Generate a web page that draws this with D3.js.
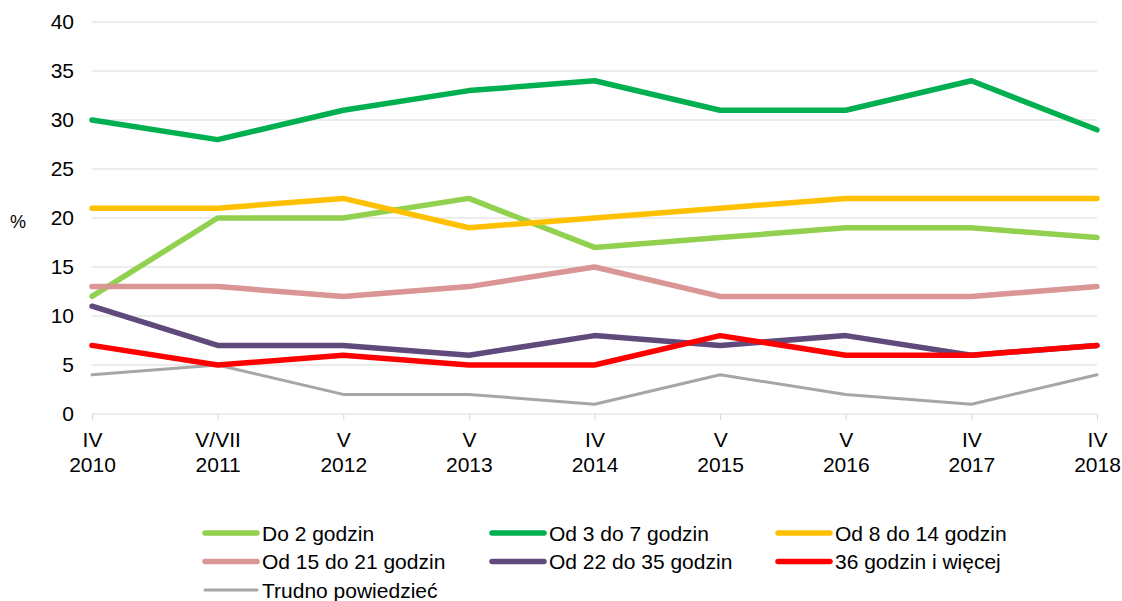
<!DOCTYPE html>
<html><head><meta charset="utf-8">
<script src="https://cdn.jsdelivr.net/npm/d3@7"></script>
<style>body{margin:0;background:#fff}svg{font-family:"Liberation Sans",Arial,sans-serif}</style>
</head><body>
<svg id="c" width="1122" height="601"></svg>
<script>
const periods = ["IV","V/VII","V","V","IV","V","V","IV","IV"];
const years = ["2010","2011","2012","2013","2014","2015","2016","2017","2018"];
const yTicks = [0,5,10,15,20,25,30,35,40];
const seriesNames = ["Do 2 godzin","Od 3 do 7 godzin","Od 8 do 14 godzin","Od 15 do 21 godzin","Od 22 do 35 godzin","36 godzin i więcej","Trudno powiedzieć"];
const do2 = [12,20,20,22,17,18,19,19,18];
const od3 = [30,28,31,33,34,31,31,34,29];
const od8 = [21,21,22,19,20,21,22,22,22];
const od15 = [13,13,12,13,15,12,12,12,13];
const od22 = [11,7,7,6,8,7,8,6,7];
const od36 = [7,5,6,5,5,8,6,6,7];
const trudno = [4,5,2,2,1,4,2,1,4];
const colors = ["#92D050","#00B050","#FFC000","#DA9694","#604A7B","#FF0000","#A6A6A6"];
const widths = [5.5,5.5,5.5,5.5,5.5,5.5,3];
const values = [do2,od3,od8,od15,od22,od36,trudno];
const FS = 21;

const svg = d3.select("#c");
const x = d3.scalePoint().domain(years).range([92,1097]);
const y = d3.scaleLinear().domain([0,40]).range([414,22]);

// gridlines
svg.append("g").selectAll("line").data(yTicks.filter(d=>d>0)).join("line")
  .attr("x1",92).attr("x2",1097).attr("y1",d=>y(d)).attr("y2",d=>y(d))
  .attr("stroke","#D9D9D9").attr("stroke-width",1);

// y axis labels
const ya = svg.append("g").attr("transform","translate(92,0)")
  .call(d3.axisLeft(y).tickValues(yTicks).tickSize(0).tickPadding(18));
ya.select(".domain").remove();
ya.selectAll("text").attr("font-size",FS).attr("fill","#000").attr("font-family","Liberation Sans, Arial, sans-serif");

// x axis
const xa = svg.append("g").attr("transform","translate(0,414)")
  .call(d3.axisBottom(x).tickSize(6).tickFormat(""));
xa.select(".domain").attr("stroke","#D9D9D9").attr("d","M92,0H1097");
xa.selectAll(".tick line").attr("stroke","#D9D9D9");
xa.selectAll(".tick").each(function(d,i){
  const t = d3.select(this).append("text").attr("fill","#000").attr("font-size",FS)
    .attr("text-anchor","middle").attr("font-family","Liberation Sans, Arial, sans-serif");
  t.append("tspan").attr("x",0).attr("y",33).text(periods[i]);
  t.append("tspan").attr("x",0).attr("y",58).text(years[i]);
});

svg.append("text").attr("x",18).attr("y",228).attr("font-size",18).attr("text-anchor","middle").text("%");

// lines
const line = d3.line().x((d,i)=>x(years[i])).y(d=>y(d));
const order = [6,0,1,2,3,4,5];
svg.append("g").selectAll("path").data(order).join("path")
  .attr("d",k=>line(values[k])).attr("fill","none")
  .attr("stroke",k=>colors[k]).attr("stroke-width",k=>widths[k])
  .attr("stroke-linejoin","round").attr("stroke-linecap","round");

// legend
const colX = [203,490,776], rowY = [533,561.5,590];
const lg = svg.append("g").selectAll("g").data(seriesNames).join("g")
  .attr("transform",(d,i)=>`translate(${colX[i%3]},${rowY[Math.floor(i/3)]})`);
lg.append("line").attr("x1",2).attr("x2",54).attr("y1",0).attr("y2",0)
  .attr("stroke",(d,i)=>colors[i]).attr("stroke-width",(d,i)=>widths[i]).attr("stroke-linecap","round");
lg.append("text").attr("x",59).attr("y",7.5).attr("font-size",FS).text(d=>d);
</script>
</body></html>
